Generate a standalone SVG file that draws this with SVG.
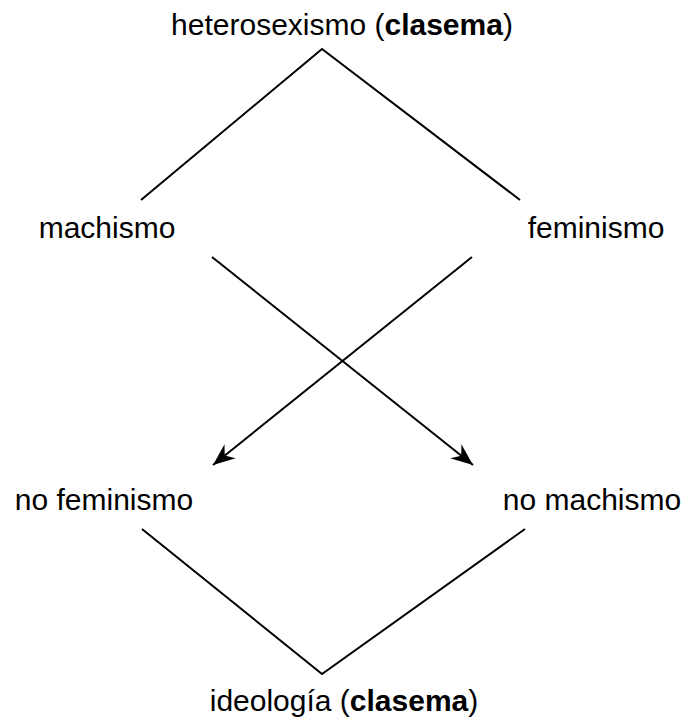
<svg xmlns="http://www.w3.org/2000/svg" width="691" height="724" viewBox="0 0 691 724">
<style>
text{font-family:"Liberation Sans",Arial,sans-serif;font-size:30px;fill:#000;text-anchor:middle}
.b{font-weight:bold}
.l{stroke:#000;stroke-width:2;fill:none}
</style>
<defs>
<marker id="ah" markerUnits="userSpaceOnUse" markerWidth="30" markerHeight="30" viewBox="-25 -12 30 24" refX="0" refY="0" orient="auto">
<path d="M0,0 L-22,-9 L-15,0 L-22,9 Z" fill="#000"/>
</marker>
</defs>
<rect width="691" height="724" fill="#fff"/>
<g id="connectors">
<polyline class="l" points="141,200 322,49 520,200"/>
<line class="l" x1="212" y1="257" x2="473" y2="465" marker-end="url(#ah)"/>
<line class="l" x1="472" y1="257" x2="213" y2="465" marker-end="url(#ah)"/>
<polyline class="l" points="142,529 322,674 525,529"/>
</g>
<g id="heterosexismo"><text x="342" y="35">heterosexismo (<tspan class="b">clasema</tspan>)</text></g>
<g id="machismo"><text x="107" y="238">machismo</text></g>
<g id="feminismo"><text x="596" y="238">feminismo</text></g>
<g id="no-feminismo"><text x="104" y="510">no feminismo</text></g>
<g id="no-machismo"><text x="592" y="510">no machismo</text></g>
<g id="ideologia"><text x="344" y="711">ideología (<tspan class="b">clasema</tspan>)</text></g>
</svg>
